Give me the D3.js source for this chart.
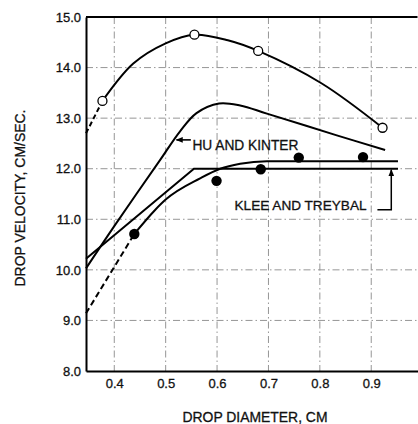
<!DOCTYPE html>
<html>
<head>
<meta charset="utf-8">
<script src="https://cdn.jsdelivr.net/npm/d3@7"></script>
<style>
  html, body { margin: 0; padding: 0; background: #fff; }
  svg text { font-family: "Liberation Sans", Arial, sans-serif; fill: #111; stroke: #111; stroke-width: 0.3px; }
</style>
</head>
<body>
<svg id="chart" width="418" height="424"></svg>
<script>
// ---- data ----
const xTicks = [0.4, 0.5, 0.6, 0.7, 0.8, 0.9];
const yTicks = [8, 9, 10, 11, 12, 13, 14, 15];
const xTickLabels = ["0.4", "0.5", "0.6", "0.7", "0.8", "0.9"];
const yTickLabels = ["8.0", "9.0", "10.0", "11.0", "12.0", "13.0", "14.0", "15.0"];

// upper curve (through open circles)
const upperX = [0.345, 0.377, 0.437, 0.500, 0.556, 0.621, 0.680, 0.803, 0.922];
const upperY = [12.70, 13.34, 14.08, 14.48, 14.65, 14.54, 14.33, 13.69, 12.81];
const openX = [0.377, 0.556, 0.680, 0.922];
const openY = [13.34, 14.65, 14.33, 12.81];

// Hu and Kinter
const huX = [0.345, 0.401, 0.489, 0.528, 0.560, 0.604, 0.645, 0.697, 0.833, 0.927];
const huY = [10.03, 10.88, 12.17, 12.74, 13.10, 13.29, 13.25, 13.09, 12.66, 12.37];

// Klee and Treybal (straight line + plateau)
const kleeX = [0.345, 0.555, 0.952];
const kleeY = [10.22, 12.00, 12.00];

// curve through the filled data points
const dataCurveX = [0.345, 0.439, 0.479, 0.500, 0.567, 0.606, 0.645, 0.697, 0.760, 0.952];
const dataCurveY = [9.14, 10.71, 11.18, 11.39, 11.81, 12.00, 12.10, 12.15, 12.15, 12.15];
const filledX = [0.439, 0.599, 0.685, 0.759, 0.884];
const filledY = [10.71, 11.76, 11.99, 12.22, 12.23];

// ---- drawing ----
const svg = d3.select("#chart");
const x = d3.scaleLinear().domain([0.345, 0.99]).range([86, 417.5]);
const y = d3.scaleLinear().domain([8, 15]).range([371, 17]);

const pts = (xs, ys) => xs.map((v, i) => [v, ys[i]]);

// grid
const grid = svg.append("g").attr("stroke", "#8a8a8a").attr("stroke-width", 0.9)
  .attr("stroke-dasharray", "7,3,1.5,3");
grid.selectAll("line.v").data(xTicks).join("line").attr("class", "v")
  .attr("x1", d => x(d)).attr("x2", d => x(d)).attr("y1", y(15)).attr("y2", y(8));
grid.selectAll("line.h").data(yTicks.filter(d => d > 8 && d < 15)).join("line").attr("class", "h")
  .attr("x1", x(0.345)).attr("x2", x(0.99)).attr("y1", d => y(d)).attr("y2", d => y(d));

// axes
const xAxis = d3.axisBottom(x).tickValues(xTicks).tickSize(0).tickPadding(8)
  .tickFormat((d, i) => xTickLabels[i]);
const yAxis = d3.axisLeft(y).tickValues(yTicks).tickSize(0).tickPadding(5)
  .tickFormat((d, i) => yTickLabels[i]);
const gx = svg.append("g").attr("transform", `translate(0,${y(8)})`).call(xAxis);
const gy = svg.append("g").attr("transform", `translate(${x(0.345)},0)`).call(yAxis);
[gx, gy].forEach(g => {
  g.select(".domain").attr("stroke", "#000").attr("stroke-width", 2);
  g.selectAll("text").attr("font-size", 13).attr("font-family", "Liberation Sans, Arial, sans-serif").attr("fill", "#111");
});
// top border
svg.append("line").attr("x1", x(0.345)).attr("x2", x(0.99)).attr("y1", y(15)).attr("y2", y(15))
  .attr("stroke", "#000").attr("stroke-width", 2);

// axis titles
svg.append("text").attr("x", 255).attr("y", 421.5).attr("text-anchor", "middle")
  .attr("font-size", 14).attr("textLength", 145).attr("lengthAdjust", "spacingAndGlyphs")
  .text("DROP DIAMETER, CM");
svg.append("text").attr("transform", "translate(25,198) rotate(-90)").attr("text-anchor", "middle")
  .attr("font-size", 14).attr("textLength", 177).attr("lengthAdjust", "spacingAndGlyphs")
  .text("DROP VELOCITY, CM/SEC.");

const lineCR = d3.line().x(d => x(d[0])).y(d => y(d[1])).curve(d3.curveCatmullRom.alpha(0.5));
const lineMono = d3.line().x(d => x(d[0])).y(d => y(d[1])).curve(d3.curveMonotoneX);
const lineLin = d3.line().x(d => x(d[0])).y(d => y(d[1]));

const curves = svg.append("g").attr("fill", "none").attr("stroke", "#000").attr("stroke-width", 2);

// upper curve: dashed first segment, solid rest
const up = pts(upperX, upperY);
curves.append("path").attr("d", lineLin(up.slice(0, 2))).attr("stroke-dasharray", "5,3");
curves.append("path").attr("d", lineCR(up.slice(1)));

// Hu and Kinter
curves.append("path").attr("d", lineCR(pts(huX, huY)));

// Klee and Treybal
curves.append("path").attr("d", lineLin(pts(kleeX, kleeY)));

// data curve: dashed extrapolation, then solid
const dc = pts(dataCurveX, dataCurveY);
curves.append("path").attr("d", lineLin(dc.slice(0, 2))).attr("stroke-dasharray", "6,3.5");
curves.append("path").attr("d", lineMono(dc.slice(1)));

// markers
svg.append("g").selectAll("circle").data(pts(openX, openY)).join("circle")
  .attr("cx", d => x(d[0])).attr("cy", d => y(d[1])).attr("r", 4.5)
  .attr("fill", "#fff").attr("stroke", "#000").attr("stroke-width", 1.3);
svg.append("g").selectAll("circle").data(pts(filledX, filledY)).join("circle")
  .attr("cx", d => x(d[0])).attr("cy", d => y(d[1])).attr("r", 5.2).attr("fill", "#000");

// annotations
const defs = svg.append("defs");
defs.append("marker").attr("id", "ah").attr("viewBox", "0 0 10 10").attr("refX", 9).attr("refY", 5)
  .attr("markerWidth", 7).attr("markerHeight", 7).attr("orient", "auto-start-reverse")
  .attr("markerUnits", "userSpaceOnUse")
  .append("path").attr("d", "M0,1 L10,5 L0,9 Z").attr("fill", "#000");

// HU AND KINTER
svg.append("line").attr("x1", x(0.549)).attr("y1", y(12.57)).attr("x2", x(0.521)).attr("y2", y(12.57))
  .attr("stroke", "#000").attr("stroke-width", 1.6).attr("marker-end", "url(#ah)");
svg.append("text").attr("x", x(0.552)).attr("y", y(12.37)).attr("font-size", 14)
  .attr("textLength", 106).attr("lengthAdjust", "spacingAndGlyphs").text("HU AND KINTER");

// KLEE AND TREYBAL
svg.append("text").attr("x", x(0.634)).attr("y", y(11.19)).attr("font-size", 13.5)
  .attr("textLength", 132).attr("lengthAdjust", "spacingAndGlyphs").text("KLEE AND TREYBAL");
svg.append("path")
  .attr("d", `M${x(0.912)},${y(11.19)} L${x(0.939)},${y(11.19)} L${x(0.939)},${y(12.0) + 1}`)
  .attr("fill", "none").attr("stroke", "#000").attr("stroke-width", 1.5).attr("marker-end", "url(#ah)");
</script>
</body>
</html>
